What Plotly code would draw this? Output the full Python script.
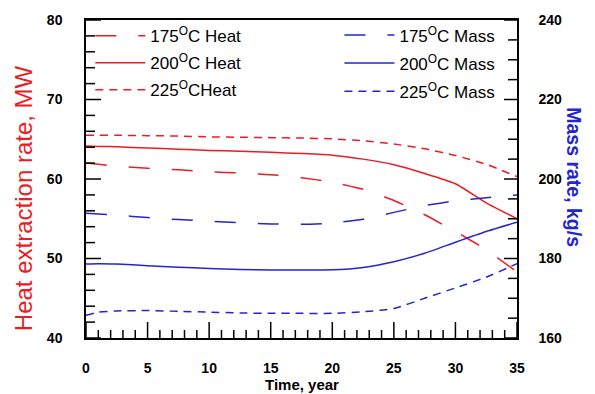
import plotly.graph_objects as go

# Production time, years
years = [0, 1, 2.5, 5, 7.5, 10, 12.5, 15, 17.5, 20, 22.5, 25, 27.5, 30, 32.5, 35]

# Heat extraction rate, MW
heat_175 = [62.0, 61.85, 61.6, 61.35, 61.15, 60.9, 60.75, 60.55, 60.15, 59.6, 58.7, 57.3, 55.5, 53.4, 51.1, 48.3]
heat_200 = [64.15, 64.1, 64.05, 63.9, 63.75, 63.6, 63.5, 63.35, 63.2, 63.0, 62.5, 61.8, 60.7, 59.4, 57.0, 55.0]
heat_225 = [65.5, 65.5, 65.5, 65.45, 65.4, 65.3, 65.25, 65.2, 65.15, 65.05, 64.8, 64.4, 63.8, 62.95, 61.85, 60.3]

# Mass rate, kg/s
mass_175 = [191.4, 191.2, 190.9, 190.3, 189.8, 189.4, 189.0, 188.7, 188.6, 188.9, 189.9, 191.6, 193.3, 194.5, 195.3, 196.0]
mass_200 = [178.6, 178.7, 178.6, 178.2, 177.8, 177.5, 177.25, 177.1, 177.1, 177.15, 177.75, 179.2, 181.3, 184.1, 186.8, 189.1]
mass_225 = [165.7, 166.5, 166.8, 166.9, 166.7, 166.5, 166.3, 166.2, 166.2, 166.2, 166.6, 167.4, 170.0, 172.6, 175.3, 178.7]

heat_names = ["175<sup>O</sup>C Heat", "200<sup>O</sup>C Heat", "225<sup>O</sup>CHeat"]
mass_names = ["175<sup>O</sup>C Mass", "200<sup>O</sup>C Mass", "225<sup>O</sup>C Mass"]

# Axis tick positions (major labelled, minor unlabelled)
x_major = list(range(0, 36, 5))
x_minor = [v for v in range(0, 36) if v % 5]
heat_major = list(range(40, 81, 10))
heat_minor = [v for v in range(40, 81, 2) if v % 10]
mass_major = list(range(160, 241, 20))
mass_minor = [v for v in range(160, 241, 5) if v % 20]

RED = "#ec1c24"
BLUE = "#2424d0"
FONT = "Liberation Sans, Arial, sans-serif"
dashes = ["21px,22px", "solid", "8px,6px"]

fig = go.Figure()

for name, vals, dash in zip(heat_names, [heat_175, heat_200, heat_225], dashes):
    fig.add_trace(go.Scatter(
        x=years, y=vals, mode="lines", name=name,
        line=dict(color=RED, width=1.5, dash=dash, shape="spline", smoothing=0.5),
        legend="legend", legendgroup=name, xaxis="x", yaxis="y",
    ))

for name, vals, dash in zip(mass_names, [mass_175, mass_200, mass_225], dashes):
    fig.add_trace(go.Scatter(
        x=years, y=vals, mode="lines", name=name,
        line=dict(color=BLUE, width=1.5, dash=dash, shape="spline", smoothing=0.5),
        legend="legend2", legendgroup=name, xaxis="x", yaxis="y2",
    ))

# Tick marks: short pixel-length segments along the frame
tick_line = dict(color="black", width=1.5)
for vals, length in [(x_major, 16), (x_minor, 8)]:
    for v in vals:
        fig.add_shape(type="line", xref="x", yref="paper", ysizemode="pixel",
                      yanchor=0, x0=v, x1=v, y0=0, y1=length,
                      line=tick_line, layer="above")
for vals, length in [(heat_major, 15), (heat_minor, 9)]:
    for v in vals:
        fig.add_shape(type="line", xref="paper", yref="y", xsizemode="pixel",
                      xanchor=0, x0=0, x1=length, y0=v, y1=v,
                      line=tick_line, layer="above")
for vals, length in [(mass_major, 13), (mass_minor, 9)]:
    for v in vals:
        fig.add_shape(type="line", xref="paper", yref="y2", xsizemode="pixel",
                      xanchor=1, x0=0, x1=-length, y0=v, y1=v,
                      line=tick_line, layer="above")

tickfont = dict(family=FONT, size=14, color="black", weight="bold")
CLEAR = "rgba(0,0,0,0)"

# Tick space is reserved on each axis so the labels sit clear of the frame
labelled = dict(showgrid=False, zeroline=False, showline=True,
                linecolor="black", linewidth=1.5, ticks="outside",
                tickcolor=CLEAR, tickfont=tickfont)

fig.update_layout(
    width=595, height=394,
    margin=dict(l=86, r=78, t=16, b=56),
    paper_bgcolor="white", plot_bgcolor="white",
    font=dict(family=FONT, color="black"),
    xaxis=dict(range=[0, 35], tickmode="array", tickvals=x_major, mirror=True,
               ticklen=16, **labelled),
    yaxis=dict(range=[40, 80], tickmode="array", tickvals=heat_major,
               ticklen=15, ticklabelstandoff=4, **labelled),
    yaxis2=dict(range=[160, 240], tickmode="array", tickvals=mass_major,
                overlaying="y", side="right", anchor="x",
                ticklen=13, ticklabelstandoff=4, **labelled),
    legend=dict(
        x=0.01, y=1.006, xanchor="left", yanchor="top",
        bgcolor=CLEAR, borderwidth=0,
        font=dict(family=FONT, size=17, color="black"),
        itemwidth=50, tracegroupgap=2,
    ),
    legend2=dict(
        x=0.588, y=1.008, xanchor="left", yanchor="top",
        bgcolor=CLEAR, borderwidth=0,
        font=dict(family=FONT, size=17, color="black"),
        itemwidth=50, tracegroupgap=3,
    ),
    annotations=[
        dict(text="Heat extraction rate, MW", xref="paper", yref="paper",
             x=-0.146, y=0.44, xanchor="center", yanchor="middle", textangle=-90,
             showarrow=False, font=dict(family=FONT, size=24, color=RED)),
        dict(text="Mass rate, kg/s", xref="paper", yref="paper",
             x=1.132, y=0.506, xanchor="center", yanchor="middle", textangle=90,
             showarrow=False, font=dict(family=FONT, size=19.5, color=BLUE, weight="bold")),
        dict(text="Time, year", xref="paper", yref="paper",
             x=0.5, y=-0.146, xanchor="center", yanchor="middle",
             showarrow=False, font=dict(family=FONT, size=15, color="black", weight="bold")),
    ],
)

fig.write_html("out.html")
